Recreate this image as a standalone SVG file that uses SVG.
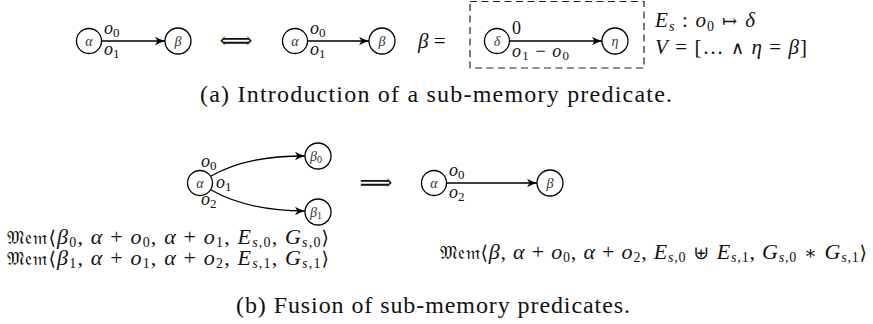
<svg xmlns="http://www.w3.org/2000/svg" width="873" height="324" viewBox="0 0 873 324" font-family="Liberation Serif, serif">
<style>
text{font-family:"Liberation Serif","DejaVu Serif",serif;fill:#111}
.i{font-style:italic}
.nd{fill:#fff;stroke:#000;stroke-width:1.3}
.nl{font-size:14px;font-style:italic;text-anchor:middle;fill:#333}
.el{font-size:18px}
.mt{font-size:21px}
.mm{font-size:22px}
.cap{font-size:24px}
.ed{fill:none;stroke:#000;stroke-width:1.3}
.sy{font-family:"DejaVu Serif","Liberation Serif",serif}
</style>
<defs>
<marker id="ah" markerUnits="userSpaceOnUse" markerWidth="12" markerHeight="10" refX="10" refY="5" orient="auto">
<path d="M0,0.8 Q5,3.8 10,5 Q5,6.2 0,9.2 L2.5,5 Z" fill="#000"/>
</marker>
</defs>

<g id="connectors">
<line class="ed" x1="101.5" y1="41" x2="165" y2="41" marker-end="url(#ah)"/>
<line class="ed" x1="308" y1="41" x2="369" y2="41" marker-end="url(#ah)"/>
<line class="ed" x1="510" y1="41" x2="602" y2="41" marker-end="url(#ah)"/>
<path class="ed" d="M211,176 C238,161 268,156 305,156" marker-end="url(#ah)"/>
<path class="ed" d="M211,190 C238,205 268,211 305,211" marker-end="url(#ah)"/>
<line class="ed" x1="447" y1="183" x2="537" y2="183" marker-end="url(#ah)"/>
</g>

<g id="a-alpha1"><circle class="nd" cx="89" cy="41" r="12.5"/><text class="nl" x="89" y="46">α</text></g>
<g id="a-beta1"><circle class="nd" cx="178" cy="41" r="13"/><text class="nl" x="178" y="46">β</text></g>
<g id="a-alpha2"><circle class="nd" cx="295" cy="41" r="12.5"/><text class="nl" x="295" y="46">α</text></g>
<g id="a-beta2"><circle class="nd" cx="382" cy="41" r="13"/><text class="nl" x="382" y="46">β</text></g>
<g id="a-delta"><circle class="nd" cx="497" cy="41" r="12.5"/><text class="nl" x="497" y="46">δ</text></g>
<g id="a-eta"><circle class="nd" cx="615" cy="41" r="13"/><text class="nl" x="615" y="46">η</text></g>
<g id="b-alpha1"><circle class="nd" cx="200" cy="183" r="12.5"/><text class="nl" x="200" y="188">α</text></g>
<g id="b-beta0"><circle class="nd" cx="318" cy="156" r="13"/><text class="nl" x="316" y="161">β<tspan font-size="10" font-style="normal" dy="2">0</tspan></text></g>
<g id="b-beta1"><circle class="nd" cx="318" cy="212" r="13"/><text class="nl" x="316" y="217">β<tspan font-size="10" font-style="normal" dy="2">1</tspan></text></g>
<g id="b-alpha2"><circle class="nd" cx="434" cy="183" r="12.5"/><text class="nl" x="434" y="188">α</text></g>
<g id="b-beta"><circle class="nd" cx="550" cy="183" r="13"/><text class="nl" x="550" y="188">β</text></g>

<g id="dashed-box"><rect x="470" y="1.5" width="174" height="66.5" fill="none" stroke="#222" stroke-width="1.2" stroke-dasharray="7,4.5"/></g>

<g id="edge-labels" class="el">
<text x="104" y="34"><tspan class="i">o</tspan><tspan font-size="13" dy="3">0</tspan></text>
<text x="104" y="55"><tspan class="i">o</tspan><tspan font-size="13" dy="3">1</tspan></text>
<text x="310" y="34"><tspan class="i">o</tspan><tspan font-size="13" dy="3">0</tspan></text>
<text x="310" y="55"><tspan class="i">o</tspan><tspan font-size="13" dy="3">1</tspan></text>
<text x="512" y="34">0</text>
<text x="512" y="57" textLength="57"><tspan class="i">o</tspan><tspan font-size="13" dy="3">1</tspan><tspan dy="-3"> − </tspan><tspan class="i">o</tspan><tspan font-size="13" dy="3">0</tspan></text>
<text x="201" y="167"><tspan class="i">o</tspan><tspan font-size="13" dy="3">0</tspan></text>
<text x="216" y="188"><tspan class="i">o</tspan><tspan font-size="13" dy="3">1</tspan></text>
<text x="201" y="205"><tspan class="i">o</tspan><tspan font-size="13" dy="3">2</tspan></text>
<text x="449" y="176"><tspan class="i">o</tspan><tspan font-size="13" dy="3">0</tspan></text>
<text x="449" y="198"><tspan class="i">o</tspan><tspan font-size="13" dy="3">2</tspan></text>
</g>

<g id="math" class="mt">
<text class="sy" x="236" y="48" text-anchor="middle" font-size="23">⟺</text>
<text x="418" y="48"><tspan class="i">β</tspan> =</text>
<text x="655" y="27" textLength="100"><tspan class="i">E</tspan><tspan class="i" font-size="14" dy="4">s</tspan><tspan dy="-4"> : </tspan><tspan class="i">o</tspan><tspan font-size="14" dy="4">0</tspan><tspan class="sy" dy="-4" font-size="18"> ↦ </tspan><tspan class="i">δ</tspan></text>
<text x="655" y="54" textLength="152"><tspan class="i">V</tspan> = [… <tspan class="sy" font-size="18">∧</tspan> <tspan class="i">η</tspan> = <tspan class="i">β</tspan>]</text>
<text class="sy" x="376" y="190" text-anchor="middle" font-size="23">⟹</text>
</g>

<g id="mem-labels" class="mm">
<text x="7" y="244" textLength="322"><tspan class="sy" font-size="19">𝔐𝔢𝔪⟨</tspan><tspan class="i">β</tspan><tspan font-size="14" dy="3">0</tspan><tspan dy="-3">, </tspan><tspan class="i">α</tspan> + <tspan class="i">o</tspan><tspan font-size="14" dy="3">0</tspan><tspan dy="-3">, </tspan><tspan class="i">α</tspan> + <tspan class="i">o</tspan><tspan font-size="14" dy="3">1</tspan><tspan dy="-3">, </tspan><tspan class="i">E</tspan><tspan font-size="14" dy="3"><tspan class="i">s</tspan>,0</tspan><tspan dy="-3">, </tspan><tspan class="i">G</tspan><tspan font-size="14" dy="3"><tspan class="i">s</tspan>,0</tspan><tspan class="sy" dy="-3" font-size="19">⟩</tspan></text>
<text x="7" y="265" textLength="322"><tspan class="sy" font-size="19">𝔐𝔢𝔪⟨</tspan><tspan class="i">β</tspan><tspan font-size="14" dy="3">1</tspan><tspan dy="-3">, </tspan><tspan class="i">α</tspan> + <tspan class="i">o</tspan><tspan font-size="14" dy="3">1</tspan><tspan dy="-3">, </tspan><tspan class="i">α</tspan> + <tspan class="i">o</tspan><tspan font-size="14" dy="3">2</tspan><tspan dy="-3">, </tspan><tspan class="i">E</tspan><tspan font-size="14" dy="3"><tspan class="i">s</tspan>,1</tspan><tspan dy="-3">, </tspan><tspan class="i">G</tspan><tspan font-size="14" dy="3"><tspan class="i">s</tspan>,1</tspan><tspan class="sy" dy="-3" font-size="19">⟩</tspan></text>
<text x="440" y="259" textLength="427"><tspan class="sy" font-size="19">𝔐𝔢𝔪⟨</tspan><tspan class="i">β</tspan>, <tspan class="i">α</tspan> + <tspan class="i">o</tspan><tspan font-size="14" dy="3">0</tspan><tspan dy="-3">, </tspan><tspan class="i">α</tspan> + <tspan class="i">o</tspan><tspan font-size="14" dy="3">2</tspan><tspan dy="-3">, </tspan><tspan class="i">E</tspan><tspan font-size="14" dy="3"><tspan class="i">s</tspan>,0</tspan><tspan class="sy" dy="-3" font-size="19"> ⊎ </tspan><tspan class="i">E</tspan><tspan font-size="14" dy="3"><tspan class="i">s</tspan>,1</tspan><tspan dy="-3">, </tspan><tspan class="i">G</tspan><tspan font-size="14" dy="3"><tspan class="i">s</tspan>,0</tspan><tspan class="sy" dy="-3" font-size="19"> ∗ </tspan><tspan class="i">G</tspan><tspan font-size="14" dy="3"><tspan class="i">s</tspan>,1</tspan><tspan class="sy" dy="-3" font-size="19">⟩</tspan></text>
</g>

<g id="captions" class="cap">
<text x="200" y="102" textLength="472">(a) Introduction of a sub-memory predicate.</text>
<text x="236" y="313" textLength="394">(b) Fusion of sub-memory predicates.</text>
</g>
</svg>
